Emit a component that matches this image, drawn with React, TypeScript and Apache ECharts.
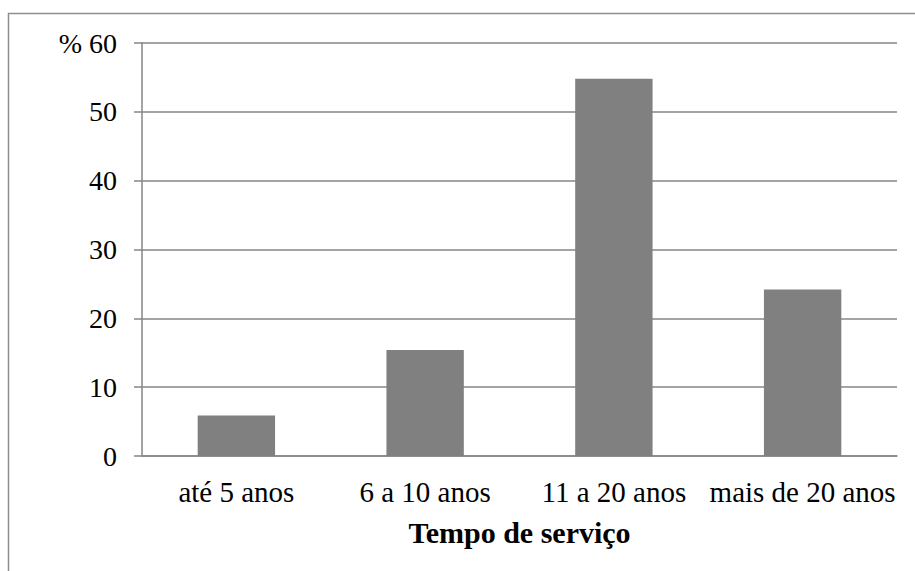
import React, { useEffect, useRef } from "react";
import * as echarts from "echarts";

// Tempo de serviço (percent of respondents)
const categories = ["até 5 anos", "6 a 10 anos", "11 a 20 anos", "mais de 20 anos"];
const percentages = [5.9, 15.4, 54.8, 24.2];
const yTicks = { min: 0, max: 60, interval: 10 };
const axisTitle = "Tempo de serviço";

const FONT = "Liberation Serif";
const GREY = "#868686";

export default function App() {
  const ref = useRef<HTMLDivElement>(null);

  useEffect(() => {
    if (!ref.current) return;
    const chart = echarts.init(ref.current, null, { renderer: "svg" });
    chart.setOption({
      animation: false,
      backgroundColor: "#ffffff",
      textStyle: { fontFamily: FONT, color: "#000000" },
      graphic: [
        {
          type: "rect",
          shape: { x: 8.5, y: 13.5, width: 940, height: 600 },
          style: { fill: "none", stroke: "#8e8e8e", lineWidth: 1.5 },
          silent: true,
        },
      ],
      grid: { left: 142, right: 18, top: 43, bottom: 115, containLabel: false },
      xAxis: {
        type: "category",
        data: categories,
        name: axisTitle,
        nameLocation: "middle",
        nameGap: 61,
        nameTextStyle: { fontFamily: FONT, fontSize: 30, fontWeight: "bold", color: "#000" },
        axisLine: { show: true, lineStyle: { color: GREY, width: 1.5 } },
        axisTick: { show: false },
        axisLabel: { fontFamily: FONT, fontSize: 29, color: "#000", margin: 21, interval: 0 },
      },
      yAxis: {
        type: "value",
        min: yTicks.min,
        max: yTicks.max,
        interval: yTicks.interval,
        axisLine: { show: true, lineStyle: { color: GREY, width: 1.5 } },
        axisTick: { show: true, length: 8, lineStyle: { color: GREY, width: 1.5 } },
        splitLine: { show: true, lineStyle: { color: GREY, width: 1.5 } },
        axisLabel: {
          fontFamily: FONT,
          fontSize: 28,
          color: "#000",
          margin: 25,
          formatter: (v: number) => (v === yTicks.max ? "% " + v : String(v)),
        },
      },
      series: [
        {
          type: "bar",
          data: percentages,
          barWidth: "41%",
          itemStyle: { color: "#808080" },
        },
      ],
    });
    return () => chart.dispose();
  }, []);

  return (
    <div
      ref={ref}
      style={{ position: "fixed", left: 0, top: 0, width: 915, height: 571 }}
    />
  );
}
